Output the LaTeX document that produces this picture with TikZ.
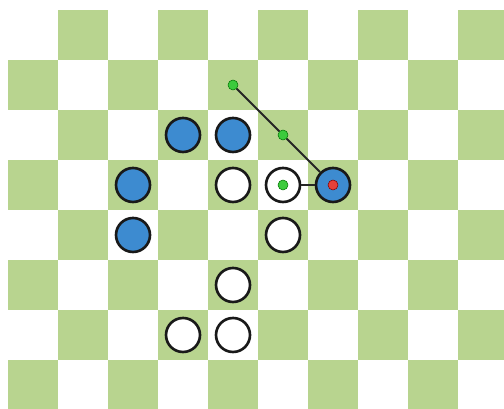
\documentclass[tikz,border=0pt]{standalone}
\usepackage{tikz}
\definecolor{boardgreen}{HTML}{B8D48F}
\definecolor{pieceblue}{HTML}{3D8BD0}
\definecolor{hopgreen}{HTML}{3CCB3C}
\definecolor{goalred}{HTML}{E4403A}

\begin{document}
\begin{tikzpicture}[
  sq/.style={fill=boardgreen, draw=none},
  piece/.style={circle, draw=black!90, line width=1.5pt,
                minimum size=6.8mm, inner sep=0pt},
  bpiece/.style={piece, fill=pieceblue},
  wpiece/.style={piece, fill=white},
  dot/.style={circle, draw=black!55!green, line width=0.3pt,
              minimum size=2mm, inner sep=0pt},
  hop/.style={dot, fill=hopgreen},
  goal/.style={dot, fill=goalred, draw=red!50!black},
  route/.style={line width=1.1pt, black!85}
]
\useasboundingbox (0,0) rectangle (10.08,-8.18);
\fill[white] (0,0) rectangle (10.08,-8.18);
% --- board ---
\begin{scope}
  \clip (0,0) rectangle (10.08,-8.18);
  \foreach \r in {0,...,7}
    \foreach \c in {0,...,9} {
      \pgfmathtruncatemacro{\odd}{mod(\r+\c,2)}
      \ifnum\odd=1 \fill[sq] (0.16+\c,-0.2-\r) rectangle ++(1,-1); \fi
    }
\end{scope}
% --- blue pieces ---
\foreach \r/\c/\n in {2/3/b1, 2/4/b2, 3/2/b3, 4/2/b4, 3/6/b5}
  \node[bpiece] (\n) at (0.66+\c,-0.7-\r) {};
% --- white pieces ---
\foreach \r/\c/\n in {3/4/w1, 3/5/w2, 4/5/w3, 5/4/w4, 6/3/w5, 6/4/w6}
  \node[wpiece] (\n) at (0.66+\c,-0.7-\r) {};
% --- jump marks ---
\node[hop] (h1) at (0.66+4,-0.7-1) {};
\node[hop] (h2) at (0.66+5,-0.7-2) {};
\node[hop] (h3) at (w2) {};
\node[goal] (g) at (b5) {};
% --- routes ---
\draw[route] (h1) -- (h2);
\draw[route] (h2) -- (b5);
\draw[route] (w2) -- (b5);
\end{tikzpicture}
\end{document}
